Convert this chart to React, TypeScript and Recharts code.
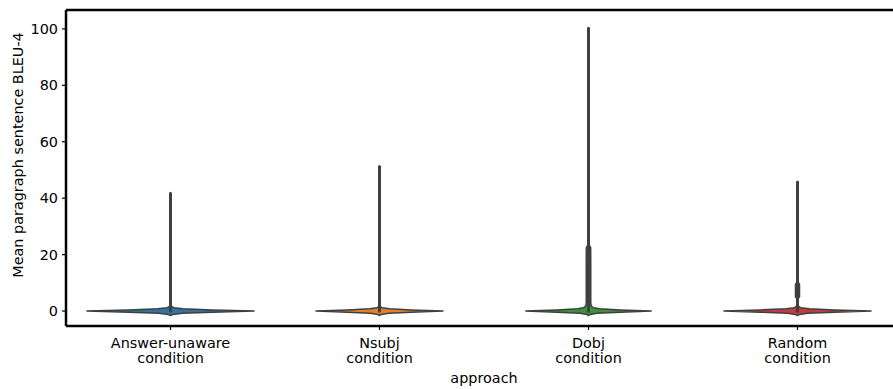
import { ComposedChart, Bar, XAxis, YAxis, ReferenceLine } from "recharts"

const categories = ["Answer-unaware condition", "Nsubj condition", "Dobj condition", "Random condition"]
const colors = ["#3274a1", "#e1812c", "#3a923a", "#c03d3e"]
const yTicks = [0, 20, 40, 60, 80, 100]
const yDomain = [-5.3, 106.7]

// KDE outline of each violin: value -> density (peak of the widest = 1)
const answerValues = [-1.6, -1.2, -0.8, -0.4, 0, 0.4, 0.8, 1.2, 1.6, 2.5, 10, 20, 30, 42]
const answerDensity = [0, 0.03, 0.14, 0.5, 1.0, 0.5, 0.15, 0.04, 0.012, 0.006, 0.005, 0.004, 0.004, 0]

const nsubjValues = [-1.6, -1.2, -0.8, -0.4, 0, 0.4, 0.8, 1.2, 1.6, 2.5, 10, 25, 40, 51.5]
const nsubjDensity = [0, 0.02, 0.11, 0.38, 0.76, 0.38, 0.12, 0.03, 0.01, 0.006, 0.005, 0.004, 0.004, 0]

const dobjValues = [-1.6, -1.2, -0.8, -0.4, 0, 0.4, 0.8, 1.2, 1.6, 2.2, 3, 10, 18, 22.5, 23.5, 40, 70, 100.5]
const dobjDensity = [0, 0.02, 0.1, 0.38, 0.75, 0.38, 0.13, 0.06, 0.04, 0.03, 0.027, 0.027, 0.027, 0.026, 0.006, 0.005, 0.004, 0]

const randomValues = [-1.6, -1.2, -0.8, -0.4, 0, 0.4, 0.8, 1.2, 1.6, 2.5, 4.5, 5, 9.5, 10.2, 20, 35, 46]
const randomDensity = [0, 0.025, 0.12, 0.44, 0.88, 0.44, 0.14, 0.04, 0.012, 0.006, 0.006, 0.024, 0.024, 0.006, 0.005, 0.004, 0]

const whiskerTop = [42, 51.5, 100.5, 46]
const medians = [0, 0, 0, 0]

const profiles = [
  [answerValues, answerDensity],
  [nsubjValues, nsubjDensity],
  [dobjValues, dobjDensity],
  [randomValues, randomDensity],
]

const data = categories.map((name, i) => {
  const vals = profiles[i][0]
  return {
    name,
    range: [vals[0], vals[vals.length - 1]],
    values: vals,
    density: profiles[i][1],
    color: colors[i],
    top: whiskerTop[i],
    median: medians[i],
  }
})

const Violin = (props: any) => {
  const { x, y, width, height, payload } = props
  const [lo, hi] = payload.range
  const toY = (v: number) => y + ((hi - v) / (hi - lo)) * height
  const cx = x + width / 2
  const scale = width * 0.4
  const right = payload.values.map((v: number, k: number) => `${cx + payload.density[k] * scale},${toY(v)}`)
  const left = payload.values
    .map((v: number, k: number) => `${cx - payload.density[k] * scale},${toY(v)}`)
    .reverse()
  return (
    <g>
      <polygon
        points={[...right, ...left].join(" ")}
        fill={payload.color}
        stroke="#3f3f3f"
        strokeWidth={1.5}
        strokeLinejoin="round"
      />
      <line x1={cx} x2={cx} y1={toY(0)} y2={toY(payload.top)} stroke="#3f3f3f" strokeWidth={3} />
      <circle cx={cx} cy={toY(payload.median)} r={1.6} fill="#3f3f3f" />
    </g>
  )
}

const XTick = (props: any) => {
  const { x, y, payload } = props
  const parts = String(payload.value).split(" ")
  return (
    <text x={x} y={y} textAnchor="middle" fontSize={14.4} fill="#000" fontFamily="DejaVu Sans">
      <tspan x={x} dy={16}>{parts[0]}</tspan>
      <tspan x={x} dy={15}>{parts[1]}</tspan>
    </text>
  )
}

export default function App() {
  return (
    <div style={{ position: "absolute", left: 0, top: 0, width: 893, height: 389, overflow: "hidden", background: "#fff" }}>
      <ComposedChart
        width={902}
        height={389}
        data={data}
        margin={{ top: 10, right: 0, left: 0, bottom: 0 }}
        barCategoryGap="0%"
        style={{ fontFamily: "DejaVu Sans" }}
      >
        <XAxis
          dataKey="name"
          height={63}
          interval={0}
          tick={<XTick />}
          tickLine={{ stroke: "#000", strokeWidth: 1.2 }}
          tickSize={4}
          axisLine={{ stroke: "#000", strokeWidth: 2.5 }}
          label={{ value: "approach", position: "insideBottom", offset: 6, fill: "#000", fontSize: 14.4 }}
        />
        <YAxis
          width={66}
          type="number"
          domain={yDomain}
          ticks={yTicks}
          allowDataOverflow
          tickSize={4}
          tickMargin={4}
          tick={{ fill: "#000", fontSize: 14.4 }}
          tickLine={{ stroke: "#000", strokeWidth: 1.2 }}
          axisLine={{ stroke: "#000", strokeWidth: 2.5 }}
          label={{
            content: () => (
              <text x={18} y={155} transform="rotate(-90 18 155)" textAnchor="middle" dominantBaseline="central" fontSize={14.4} fill="#000">
                Mean paragraph sentence BLEU-4
              </text>
            ),
          }}
        />
        <ReferenceLine y={yDomain[1]} stroke="#000" strokeWidth={2.5} />
        <Bar dataKey="range" shape={<Violin />} isAnimationActive={false} />
      </ComposedChart>
    </div>
  )
}
